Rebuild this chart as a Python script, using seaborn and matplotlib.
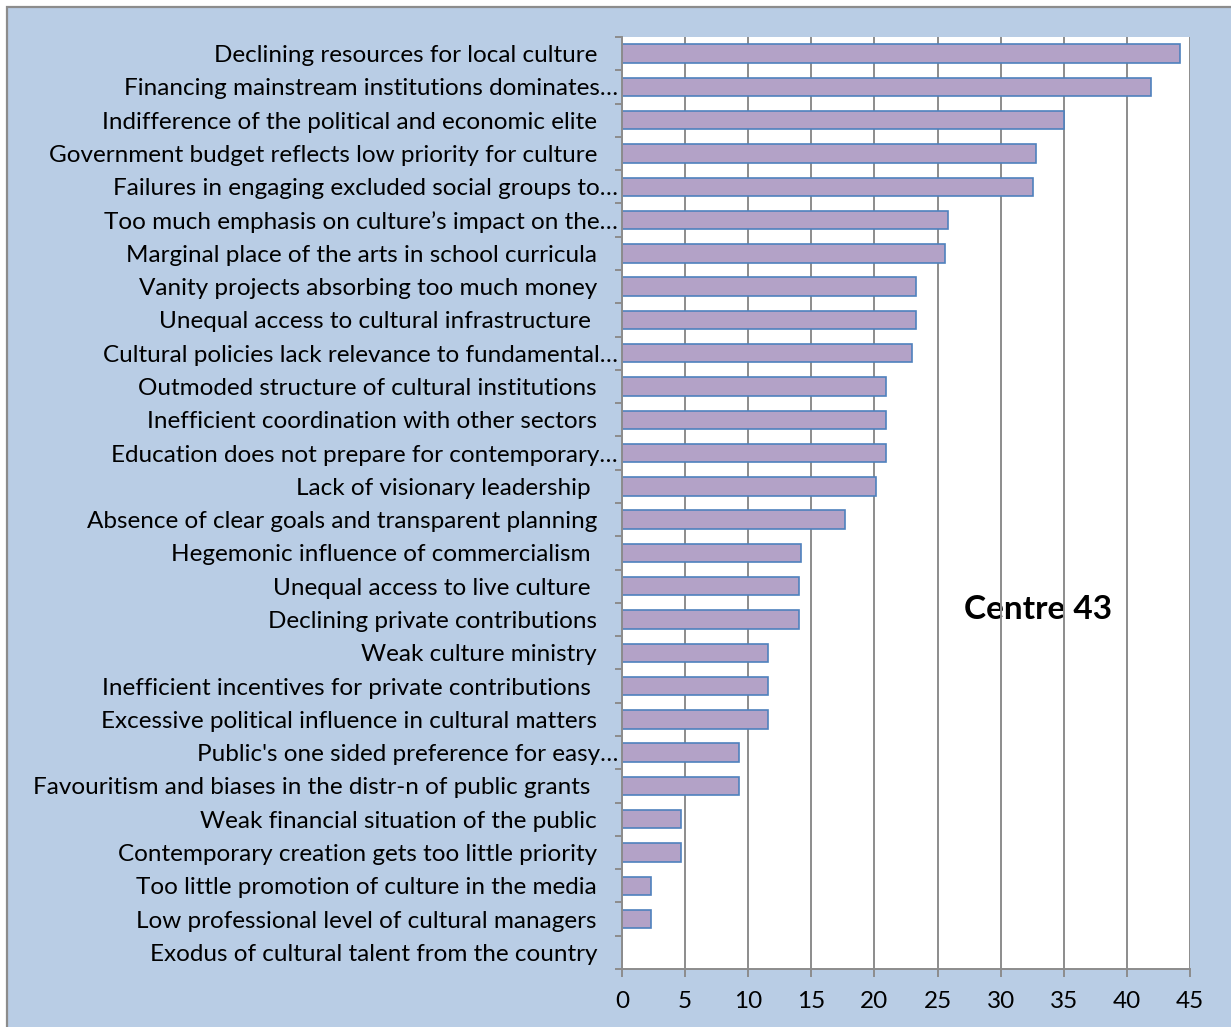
import matplotlib
matplotlib.use("Agg")
import matplotlib.pyplot as plt
import matplotlib.patches as mpatches
from matplotlib.transforms import ScaledTranslation
from matplotlib.ticker import FixedLocator
import seaborn as sns
import pandas as pd

# Obstacles to cultural development, share of respondents (%)
categories = [
    "Declining resources for local culture",
    "Financing mainstream institutions dominates…",
    "Indifference of the political and economic elite",
    "Government budget reflects low priority for culture",
    "Failures in engaging excluded social groups to…",
    "Too much emphasis on culture’s impact on the…",
    "Marginal place of the arts in school curricula",
    "Vanity projects absorbing too much money",
    "Unequal access to cultural infrastructure ",
    "Cultural policies lack relevance to fundamental…",
    "Outmoded structure of cultural institutions",
    "Inefficient coordination with other sectors",
    "Education does not prepare for contemporary…",
    "Lack of visionary leadership ",
    "Absence of clear goals and transparent planning",
    "Hegemonic influence of commercialism ",
    "Unequal access to live culture ",
    "Declining private contributions",
    "Weak culture ministry",
    "Inefficient incentives for private contributions ",
    "Excessive political influence in cultural matters",
    "Public's one sided preference for easy…",
    "Favouritism and biases in the distr-n of public grants ",
    "Weak financial situation of the public",
    "Contemporary creation gets too little priority",
    "Too little promotion of culture in the media",
    "Low professional level of cultural managers",
    "Exodus of cultural talent from the country",
]
values = [44.2, 41.9, 35.0, 32.8, 32.6, 25.8, 25.6, 23.3, 23.3, 23.0,
          20.9, 20.9, 20.9, 20.1, 17.7, 14.2, 14.0, 14.0, 11.6, 11.6,
          11.6, 9.3, 9.3, 4.7, 4.7, 2.3, 2.3, 0.0]
x_ticks = [0, 5, 10, 15, 20, 25, 30, 35, 40, 45]
panel_title = "Centre 43"

df = pd.DataFrame({"obstacle": categories, "share": values})

sns.set_theme(style="white")
plt.rcParams["font.family"] = ["Lato", "DejaVu Sans"]

W, H = 1231, 1027
fig = plt.figure(figsize=(W / 100, H / 100), dpi=100)
fig.patch.set_facecolor("white")

# light blue chart area with grey frame
frame = mpatches.Rectangle((7 / W, -0.01), 1.02, 1 - 7 / H + 0.01,
                           transform=fig.transFigure, facecolor="#B9CDE5",
                           edgecolor="#8C8C8C", linewidth=1.6, zorder=-10)
fig.patches.append(frame)

ax = fig.add_axes([622 / W, 1 - 969 / H, (1190 - 622) / W, (969 - 37) / H])
ax.set_zorder(1)
ax.set_facecolor("white")

sns.barplot(data=df, y="obstacle", x="share", orient="h", ax=ax,
            color="#B3A2C7", saturation=1, width=0.55,
            edgecolor="#4F81BD", linewidth=1.2, errorbar=None)

ax.set_xlim(0, 45)
ax.set_ylim(len(categories) - 0.5, -0.5)
ax.set_xlabel("")
ax.set_ylabel("")

ax.set_axisbelow(True)
ax.xaxis.set_major_locator(FixedLocator(x_ticks))
ax.grid(axis="x", color="#8C8C8C", linewidth=1.4)
ax.grid(axis="y", visible=False)

for side in ["top", "right"]:
    ax.spines[side].set_visible(False)
for side in ["left", "bottom"]:
    ax.spines[side].set_visible(True)
    ax.spines[side].set_color("#8C8C8C")
    ax.spines[side].set_linewidth(1.4)

ax.tick_params(axis="x", which="major", bottom=True, length=6, width=1.4,
               color="#8C8C8C", labelsize=17.5, pad=10, labelcolor="black")
ax.tick_params(axis="y", which="major", left=False, length=0,
               labelsize=17.5, pad=18, labelcolor="black")
ax.yaxis.set_minor_locator(FixedLocator([i - 0.5 for i in range(len(categories) + 1)]))
ax.tick_params(axis="y", which="minor", left=True, length=5, width=1.4,
               color="#8C8C8C")

# truncated labels run up to the axis
shift = ScaledTranslation(21 / 100, 0, fig.dpi_scale_trans)
for lab in ax.get_yticklabels():
    if lab.get_text().endswith("…"):
        lab.set_transform(lab.get_transform() + shift)

ax.text(33.0, 16.7, panel_title, ha="center", va="center",
        fontsize=24, fontweight="bold", color="black", zorder=0.2)

fig.savefig("out.png", dpi=100)
